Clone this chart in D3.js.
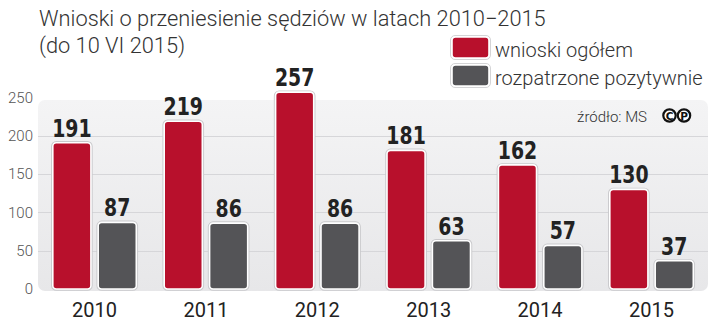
<!DOCTYPE html>
<html><head><meta charset="utf-8">
<script src="https://cdn.jsdelivr.net/npm/d3@7"></script>
<style>body{margin:0;background:#fff}svg{display:block}</style>
</head><body>
<script>
const years = ["2010","2011","2012","2013","2014","2015"];
const seriesNames = ["wnioski ogółem","rozpatrzone pozytywnie"];
const wnioski = [191,219,257,181,162,130];
const rozpatrzone = [87,86,86,63,57,37];
const yTicks = [0,50,100,150,200,250];
const colors = ["#b8102c","#545457"];

const W=720,H=335;
const svg=d3.select("body").append("svg").attr("width",W).attr("height",H);
const defs=svg.append("defs");
const g=defs.append("linearGradient").attr("id","pg").attr("x1",0).attr("y1",0).attr("x2",0).attr("y2",1);
g.append("stop").attr("offset","0%").attr("stop-color","#f4f4f5");
g.append("stop").attr("offset","100%").attr("stop-color","#e7e7e9");

const x0=d3.scaleBand().domain(years).range([38.8,707.2]).padding(0);
const x1=d3.scaleBand().domain(seriesNames).range([14,97.5]).paddingInner(0.16).paddingOuter(0);
const y=d3.scaleLinear().domain([0,250]).range([289,97.5]);

// panel
svg.append("rect").attr("x",38).attr("y",100).attr("width",670).attr("height",191).attr("rx",7).attr("fill","url(#pg)");

// grid
svg.append("g").selectAll("line").data(yTicks.filter(d=>d>0&&d<250)).join("line")
 .attr("x1",38).attr("x2",708).attr("y1",d=>Math.round(y(d))+0.5).attr("y2",d=>Math.round(y(d))+0.5)
 .attr("stroke","#d6d6d9").attr("stroke-width",1);

// y axis labels
const ax=d3.axisLeft(y).tickValues(yTicks).tickSize(0).tickPadding(0);
const ag=svg.append("g").attr("transform","translate(33,0)").call(ax);
ag.select(".domain").remove();
ag.selectAll("text").attr("font-family","Roboto").attr("font-weight",300).attr("font-size",15).attr("fill","#555");

// x axis labels
const xa=d3.axisBottom(x0).tickSize(0).tickPadding(0);
const xg=svg.append("g").attr("transform","translate(0,300)").call(xa);
xg.select(".domain").remove();
xg.selectAll("text").attr("font-family","Roboto").attr("font-weight",400).attr("font-size",20).attr("fill","#222").attr("dy","0.85em");

// bars
const data=[];
years.forEach((yr,i)=>{data.push({yr,s:seriesNames[0],v:wnioski[i],c:colors[0]});data.push({yr,s:seriesNames[1],v:rozpatrzone[i],c:colors[1]});});
const bg=svg.append("g");
bg.selectAll("rect.sh").data(data).join("rect").attr("class","sh")
 .attr("x",d=>x0(d.yr)+x1(d.s)).attr("width",x1.bandwidth())
 .attr("y",d=>y(d.v)).attr("height",d=>y(0)-y(d.v)).attr("rx",3.5)
 .attr("fill","none").attr("stroke","#c9c9cc").attr("stroke-width",3.5);
bg.selectAll("rect.b").data(data).join("rect").attr("class","b")
 .attr("x",d=>x0(d.yr)+x1(d.s)).attr("width",x1.bandwidth())
 .attr("y",d=>y(d.v)).attr("height",d=>y(0)-y(d.v)).attr("rx",3.5)
 .attr("fill",d=>d.c).attr("stroke","#fff").attr("stroke-width",1.6);
bg.selectAll("text").data(data).join("text")
 .attr("transform",d=>`translate(${x0(d.yr)+x1(d.s)+x1.bandwidth()/2},${y(d.v)-6}) scale(0.84,1)`)
 .attr("text-anchor","middle").attr("font-family","'DejaVu Sans Condensed',sans-serif")
 .attr("font-weight","bold").attr("font-size",25).attr("fill","#222").text(d=>d.v);

// title
const t=svg.append("text").attr("font-family","Roboto").attr("font-weight",300).attr("font-size",21.8).attr("fill","#333");
t.append("tspan").attr("x",39).attr("y",26).text("Wnioski o przeniesienie sędziów w latach 2010−2015");
t.append("tspan").attr("x",39).attr("y",53).text("(do 10 VI 2015)");

// legend
const lg=svg.append("g");
seriesNames.forEach((s,i)=>{
  const yy=37+i*28;
  lg.append("rect").attr("x",452).attr("y",yy).attr("width",37).attr("height",21).attr("rx",3.5)
    .attr("fill",colors[i]).attr("stroke","#fff").attr("stroke-width",1.6);
  lg.append("rect").attr("x",450.5).attr("y",yy-1.5).attr("width",40).attr("height",24).attr("rx",4.5)
    .attr("fill","none").attr("stroke","#d4d4d6").attr("stroke-width",1);
  lg.append("text").attr("x",495).attr("y",yy+20).attr("font-family","Roboto").attr("font-weight",300)
    .attr("font-size",20).attr("fill","#333").text(s);
});

// source
svg.append("text").attr("x",647).attr("y",122).attr("text-anchor","end").attr("font-family","Roboto").attr("font-weight",300)
 .attr("font-size",15).attr("fill","#333").text("źródło: MS");
[["C",669.5],["P",684]].forEach(([ch,cx])=>{
  svg.append("circle").attr("cx",cx).attr("cy",115.5).attr("r",6.2).attr("fill","#fff").attr("stroke","#111").attr("stroke-width",2.2);
  svg.append("text").attr("x",cx).attr("y",119.5).attr("text-anchor","middle").attr("font-family","DejaVu Sans").attr("font-weight","bold")
   .attr("font-size",10.5).attr("fill","#111").text(ch);
});
</script>
</body></html>
